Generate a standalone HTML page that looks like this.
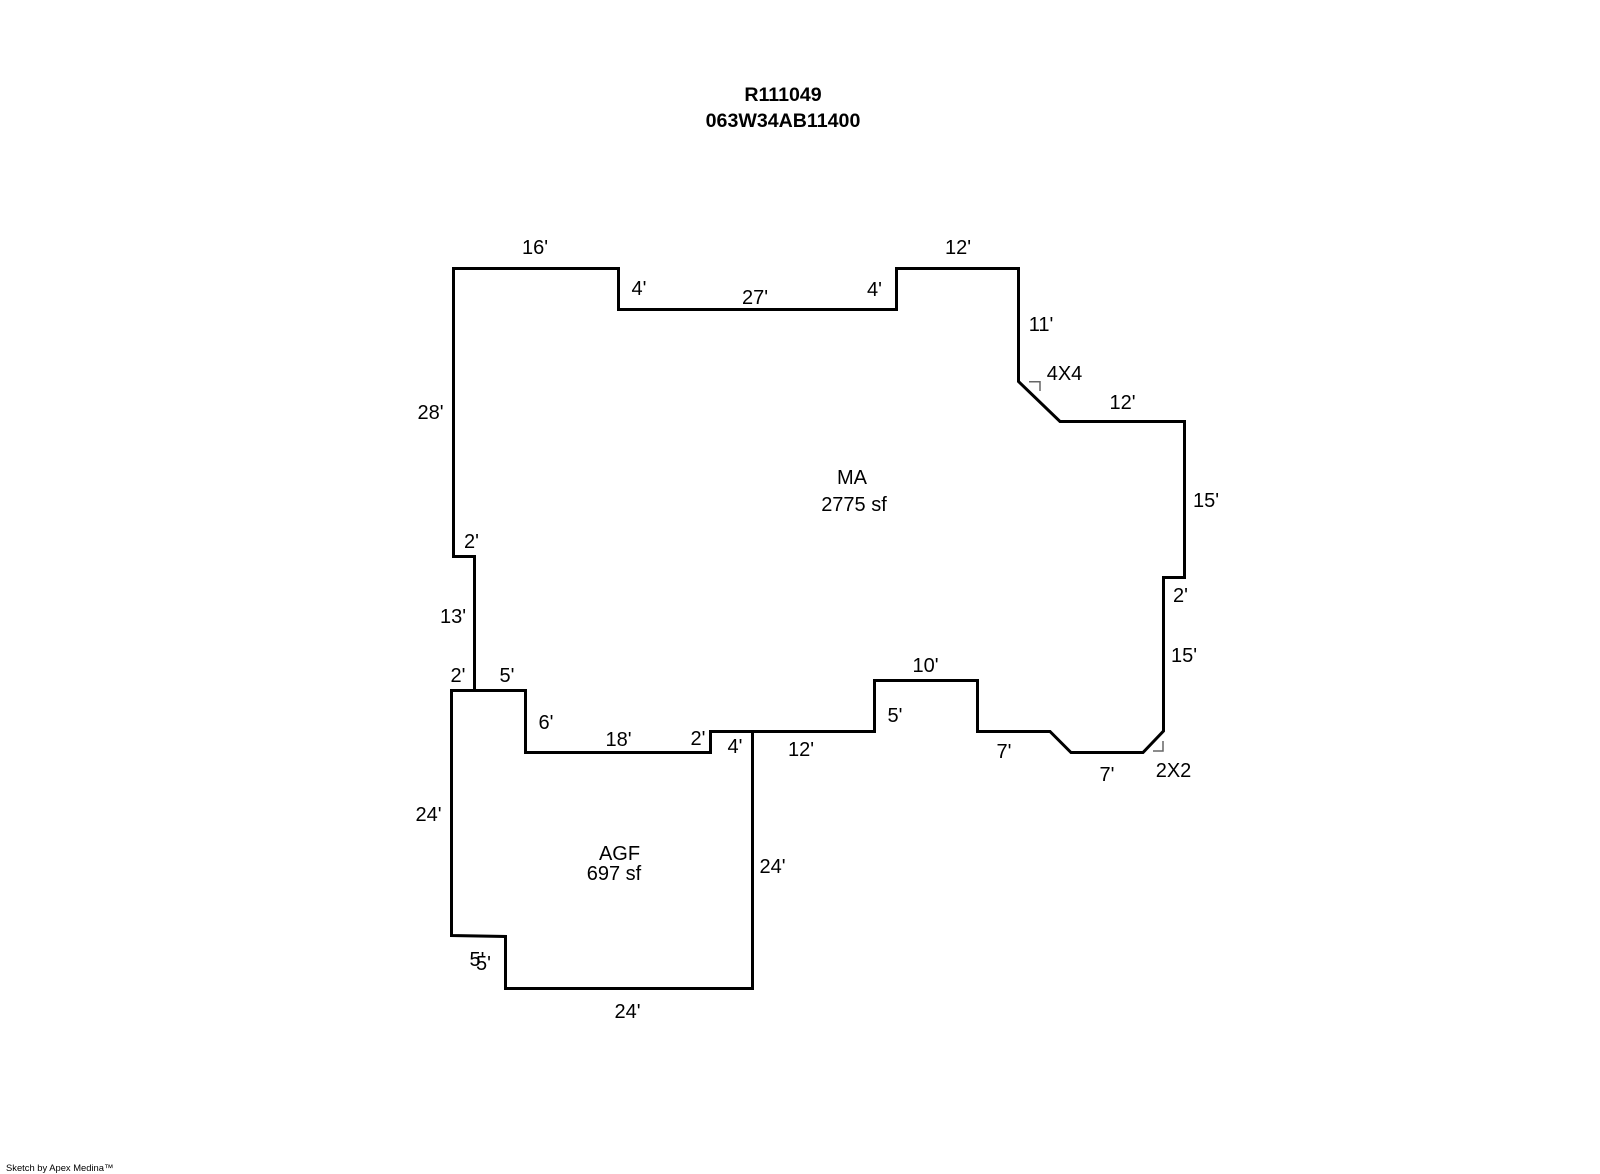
<!DOCTYPE html>
<html>
<head>
<meta charset="utf-8">
<style>
html,body{margin:0;padding:0;background:#fff;width:1600px;height:1174px;overflow:hidden}
svg{display:block}
text{font-family:"Liberation Sans",Arial,sans-serif;font-size:20px;fill:#000}
.b{font-weight:bold;font-size:19.6px}
</style>
</head>
<body>
<svg width="1600" height="1174" viewBox="0 0 1600 1174" xmlns="http://www.w3.org/2000/svg">
<rect width="1600" height="1174" fill="#fff"/>
<g fill="none" stroke="#000" stroke-width="3" stroke-linejoin="miter">
<path d="M453.5 556.5 V268.5 H618.5 V309.5 H896.5 V268.5 H1018.5 V381.5 L1060 421.5 H1184.5 V577.5 H1163.5 V731 L1143 752.5 H1071 L1050 731.5 H977.5 V680.5 H874.5 V731.5 H710.5 V752.5 H525.5 V690.5 H474.5 V556.5 Z"/>
<path d="M451.5 690.5 H525.5 V752.5 H710.5 V731.5 H752.5 V988.5 H505.5 V936.5 L451.5 935.5 Z"/>
</g>
<g fill="none" stroke="#666" stroke-width="1.5">
<path d="M1029 381.7 H1040 V391"/>
<path d="M1153 751 H1163 V741"/>
</g>
<g text-anchor="middle">
<text x="783" y="101" class="b">R111049</text>
<text x="783" y="127" class="b">063W34AB11400</text>
<text x="535" y="254">16'</text>
<text x="639" y="295">4'</text>
<text x="755" y="304">27'</text>
<text x="874.5" y="296">4'</text>
<text x="958" y="254">12'</text>
<text x="1041" y="331">11'</text>
<text x="1064.5" y="380">4X4</text>
<text x="1122.5" y="409">12'</text>
<text x="1206" y="507">15'</text>
<text x="1180.5" y="602">2'</text>
<text x="1184" y="662">15'</text>
<text x="1173.5" y="777">2X2</text>
<text x="1107" y="781">7'</text>
<text x="1004" y="758">7'</text>
<text x="925.5" y="672">10'</text>
<text x="895" y="722">5'</text>
<text x="801" y="756">12'</text>
<text x="735" y="753">4'</text>
<text x="698" y="745">2'</text>
<text x="618.5" y="746">18'</text>
<text x="546" y="729">6'</text>
<text x="507" y="682">5'</text>
<text x="458" y="682">2'</text>
<text x="453" y="623">13'</text>
<text x="471.5" y="548">2'</text>
<text x="430.5" y="419">28'</text>
<text x="428.5" y="821">24'</text>
<text x="772.5" y="873">24'</text>
<text x="627.5" y="1018">24'</text>
<text x="477" y="966">5'</text>
<text x="483.5" y="970">5'</text>
<text x="852" y="484">MA</text>
<text x="854" y="511">2775 sf</text>
<text x="619.5" y="860">AGF</text>
<text x="614" y="880">697 sf</text>
</g>
<text x="6" y="1171" style="font-size:9.4px">Sketch by Apex Medina™</text>
</svg>
</body>
</html>
